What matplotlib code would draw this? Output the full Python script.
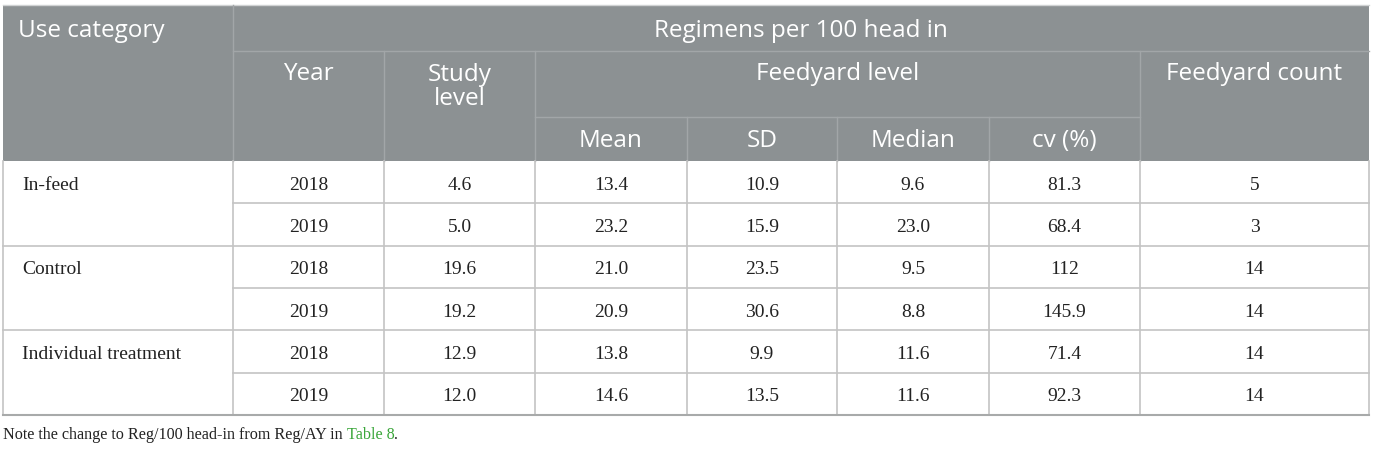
import matplotlib
matplotlib.use('Agg')
import matplotlib.pyplot as plt
from matplotlib.patches import Rectangle

# Data
categories = ["In-feed", "Control", "Individual treatment"]
years = ["2018", "2019", "2018", "2019", "2018", "2019"]
study_level = ["4.6", "5.0", "19.6", "19.2", "12.9", "12.0"]
fy_mean = ["13.4", "23.2", "21.0", "20.9", "13.8", "14.6"]
fy_sd = ["10.9", "15.9", "23.5", "30.6", "9.9", "13.5"]
fy_median = ["9.6", "23.0", "9.5", "8.8", "11.6", "11.6"]
fy_cv = ["81.3", "68.4", "112", "145.9", "71.4", "92.3"]
fy_count = ["5", "3", "14", "14", "14", "14"]

# Layout in pixels
W, H = 1375, 449
cols = [3, 233, 384, 535, 687, 837, 989, 1140, 1369]
top, r1, r2, hdr_bot, bottom = 5, 51, 117, 161, 415
row_h = (bottom - hdr_bot) / len(years)

header_bg = '#8c9193'
header_line = '#a2a6a8'
body_line = '#c4c4c4'
sans = 'Open Sans'
serif = 'Liberation Serif'

fig = plt.figure(figsize=(W / 100, H / 100), dpi=100)
ax = fig.add_axes([0, 0, 1, 1])
ax.set_xlim(0, W)
ax.set_ylim(H, 0)
ax.axis('off')

# header block
ax.add_patch(Rectangle((cols[0], top), cols[-1] - cols[0], hdr_bot - top,
                       facecolor=header_bg, edgecolor='none'))
ax.plot([cols[0], cols[-1]], [top - 0.5, top - 0.5], color='#d0d2d3', lw=1)

# header inner lines
ax.plot([cols[1], cols[-1]], [r1, r1], color=header_line, lw=1)
ax.plot([cols[3], cols[7]], [r2, r2], color=header_line, lw=1)
ax.plot([cols[1], cols[1]], [top, hdr_bot], color=header_line, lw=1)
for x in [cols[2], cols[3], cols[7]]:
    ax.plot([x, x], [r1, hdr_bot], color=header_line, lw=1)
for x in [cols[4], cols[5], cols[6]]:
    ax.plot([x, x], [r2, hdr_bot], color=header_line, lw=1)

hkw = dict(color='white', fontsize=17.5, family=sans)
ax.text(18, 31, "Use category", ha='left', va='center', **hkw)
ax.text((cols[1] + cols[-1]) / 2, 31, "Regimens per 100 head in", ha='center', va='center', **hkw)
ax.text((cols[1] + cols[2]) / 2, 74, "Year", ha='center', va='center', **hkw)
ax.text((cols[2] + cols[3]) / 2, 87, "Study\nlevel", ha='center', va='center', linespacing=0.95, **hkw)
ax.text((cols[3] + cols[7]) / 2, 74, "Feedyard level", ha='center', va='center', **hkw)
ax.text((cols[7] + cols[8]) / 2, 74, "Feedyard count", ha='center', va='center', **hkw)
for lab, a, b in zip(["Mean", "SD", "Median", "cv (%)"], cols[3:7], cols[4:8]):
    ax.text((a + b) / 2, 141, lab, ha='center', va='center', **hkw)

# body lines
ax.plot([cols[0], cols[0]], [hdr_bot, bottom], color=body_line, lw=1.2)
ax.plot([cols[-1], cols[-1]], [hdr_bot, bottom], color=body_line, lw=1.2)
for x in cols[1:-1]:
    ax.plot([x, x], [hdr_bot, bottom], color=body_line, lw=1.2)
for i in range(1, len(years)):
    y = hdr_bot + i * row_h
    x0 = cols[0] if i % 2 == 0 else cols[1]
    ax.plot([x0, cols[-1]], [y, y], color=body_line, lw=1.2)
ax.plot([cols[0], cols[-1]], [bottom, bottom], color='#a8aaaa', lw=1.5)

bkw = dict(color='#222222', fontsize=14, family=serif, va='center')
for k, cat in enumerate(categories):
    ax.text(22, hdr_bot + (2 * k + 0.5) * row_h + 3, cat, ha='left', **bkw)

columns = [years, study_level, fy_mean, fy_sd, fy_median, fy_cv, fy_count]
for j, vals in enumerate(columns):
    xc = (cols[j + 1] + cols[j + 2]) / 2
    for i, v in enumerate(vals):
        ax.text(xc, hdr_bot + (i + 0.5) * row_h + 3, v, ha='center', **bkw)

# footnote
fkw = dict(va='center', fontsize=11.6, family=serif)
t = ax.text(3, 435, "Note the change to Reg/100 head-in from Reg/AY in ", ha='left', color='#222222', **fkw)
fig.canvas.draw()
x_end = ax.transData.inverted().transform((t.get_window_extent().x1, 0))[0]
t2 = ax.text(x_end, 435, "Table 8", ha='left', color='#3aa63a', **fkw)
fig.canvas.draw()
x_end2 = ax.transData.inverted().transform((t2.get_window_extent().x1, 0))[0]
ax.text(x_end2, 435, ".", ha='left', color='#222222', **fkw)

fig.savefig('out.png', dpi=100)
